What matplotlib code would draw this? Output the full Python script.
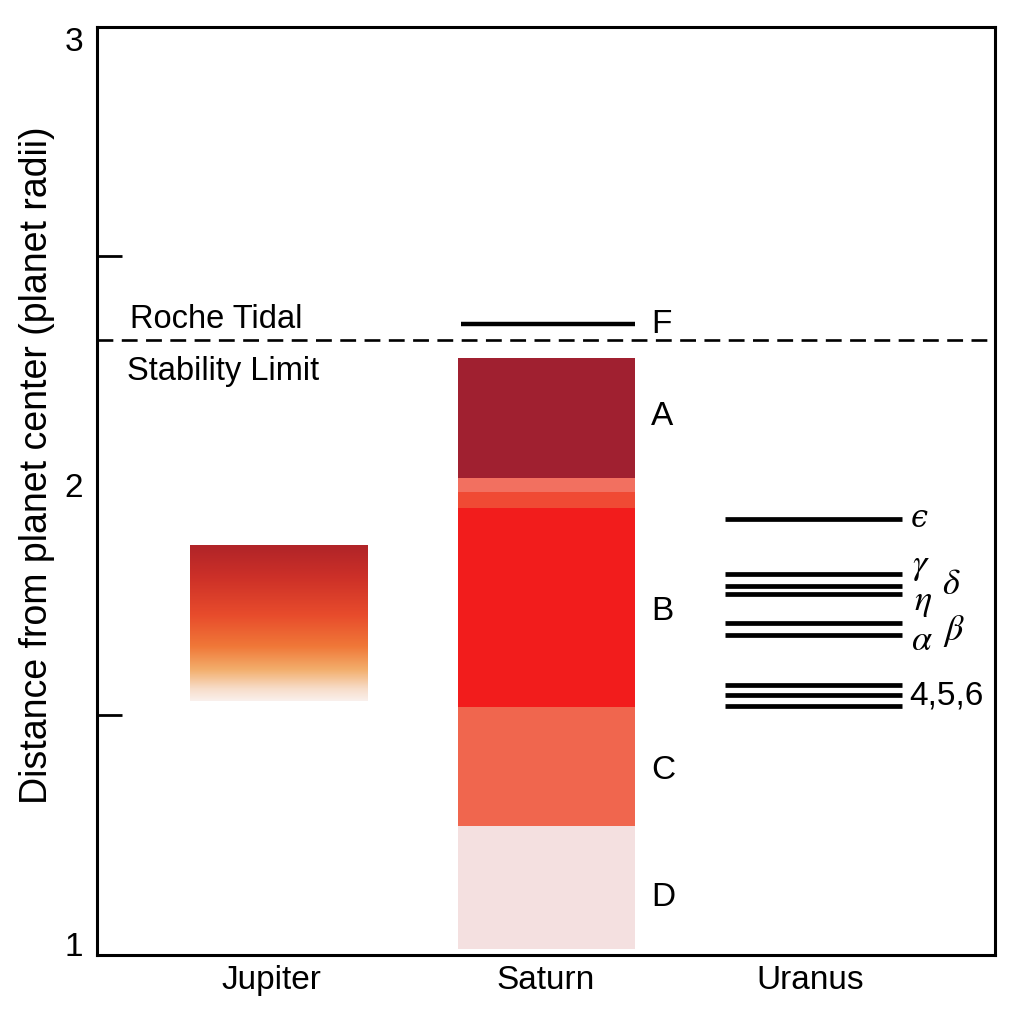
import numpy as np
import matplotlib
matplotlib.use("Agg")
import matplotlib.pyplot as plt
from matplotlib.colors import LinearSegmentedColormap

plt.rcParams['font.family'] = ['Liberation Sans', 'DejaVu Sans']
plt.rcParams['mathtext.fontset'] = 'stix'

# ---- data ----
planets = ['Jupiter', 'Saturn', 'Uranus']
label_pos = [0.0, 1.02, 2.0]
mark_pos = [0.028, 1.021, 2.012]

jupiter_ring = (1.530, 1.870)

saturn_band_names = ['D', 'C', 'B', 'B outer', 'Cassini', 'A']
saturn_band_inner = [0.99, 1.257, 1.517, 1.950, 1.985, 2.017]
saturn_band_outer = [1.257, 1.517, 1.950, 1.985, 2.017, 2.278]
saturn_band_colors = ['#f4e0e0', '#f0664e', '#f21c1c', '#f04a34', '#f27060', '#a02030']
saturn_f_ring = 2.352

saturn_labels = ['F', 'A', 'B', 'C', 'D']
saturn_label_y = [2.352, 2.150, 1.726, 1.378, 1.102]

uranus_rings = [1.926, 1.807, 1.780, 1.763, 1.700, 1.674, 1.565, 1.543, 1.520]
uranus_labels = ['\u03f5', r'$\gamma$', r'$\delta$', r'$\eta$', r'$\beta$', r'$\alpha$', '4,5,6']
uranus_label_y = [1.928, 1.826, 1.785, 1.748, 1.683, 1.661, 1.541]
uranus_label_dx = [0.375, 0.38, 0.49, 0.385, 0.495, 0.375, 0.37]

roche_limit = 2.317

y_major = [1, 2, 3]
y_minor = [1.5, 2, 2.5]

# ---- figure ----
fig = plt.figure(figsize=(10.14, 10.11), dpi=100)
ax = fig.add_axes([97/1014, 56/1011, 898/1014, 928/1011])
ax.set_xlim(-0.646, 2.687)
ax.set_ylim(0.976, 2.993)

width = 0.657

# Jupiter gradient
cmap = LinearSegmentedColormap.from_list(
    'jup', [(0.0, '#faf0ec'), (0.08, '#f7dcc8'), (0.2, '#f3ae6c'),
            (0.35, '#f07838'), (0.55, '#e84c2c'), (0.8, '#cc3028'), (1.0, '#b02428')])
grad = np.linspace(0, 1, 256).reshape(-1, 1)
jx = mark_pos[0]
ax.imshow(grad, origin='lower', cmap=cmap, aspect='auto',
          extent=[jx - width/2, jx + width/2, jupiter_ring[0], jupiter_ring[1]],
          zorder=2, interpolation='bilinear')

# Saturn bands
sx = mark_pos[1]
for lo, hi, c in zip(saturn_band_inner, saturn_band_outer, saturn_band_colors):
    ax.bar(sx, hi - lo, bottom=lo, width=width, color=c, edgecolor='none', zorder=2)

# Saturn F ring
ax.plot([sx - width/2 + 0.012, sx + width/2], [saturn_f_ring]*2, color='black', lw=3.2,
        solid_capstyle='butt', zorder=3)
for lab, yv in zip(saturn_labels, saturn_label_y):
    ax.text(sx + width/2 + 0.06, yv, lab, fontsize=24, va='center', ha='left')

# Uranus rings
ux = mark_pos[2]
for yv in uranus_rings:
    ax.plot([ux - width/2, ux + width/2], [yv, yv], color='black', lw=3.4,
            solid_capstyle='butt', zorder=3)
for lab, yv, dx in zip(uranus_labels, uranus_label_y, uranus_label_dx):
    if lab.startswith('$'):
        ax.text(label_pos[2] + dx, yv, lab, fontsize=26, va='center', ha='left')
    elif lab == '4,5,6':
        ax.text(label_pos[2] + dx, yv, lab, fontsize=24, va='center', ha='left')
    else:
        ax.text(label_pos[2] + dx, yv, lab, fontsize=22, va='center', ha='left',
                family=['DejaVu Serif'], style='italic')

# Roche limit
ax.axhline(roche_limit, color='black', lw=1.9, dashes=(6, 3.2), zorder=3)
ax.text(-0.5235, 2.361, 'Roche Tidal', fontsize=23.5, va='center', ha='left')
ax.text(-0.535, 2.248, 'Stability Limit', fontsize=23.5, va='center', ha='left')

# axes styling
for s in ax.spines.values():
    s.set_linewidth(2.2)
ax.set_xticks(label_pos)
ax.set_xticklabels(planets, fontsize=24)
ax.tick_params(axis='x', length=0, pad=7)
ax.set_yticks(y_major)
ax.set_yticklabels([str(v) for v in y_major], fontsize=24)
ax.tick_params(axis='y', which='major', length=0, pad=10)
ax.get_yticklabels()[-1].set_va('top')
ax.set_yticks(y_minor, minor=True)
ax.tick_params(axis='y', which='minor', direction='in', length=18, width=2)
ax.set_ylabel('Distance from planet center (planet radii)', fontsize=27)
ax.yaxis.label.set_va('center')
ax.yaxis.set_label_coords((37 - 97) / 898, (955 - 465) / 928)

fig.savefig('out.png', dpi=100)
